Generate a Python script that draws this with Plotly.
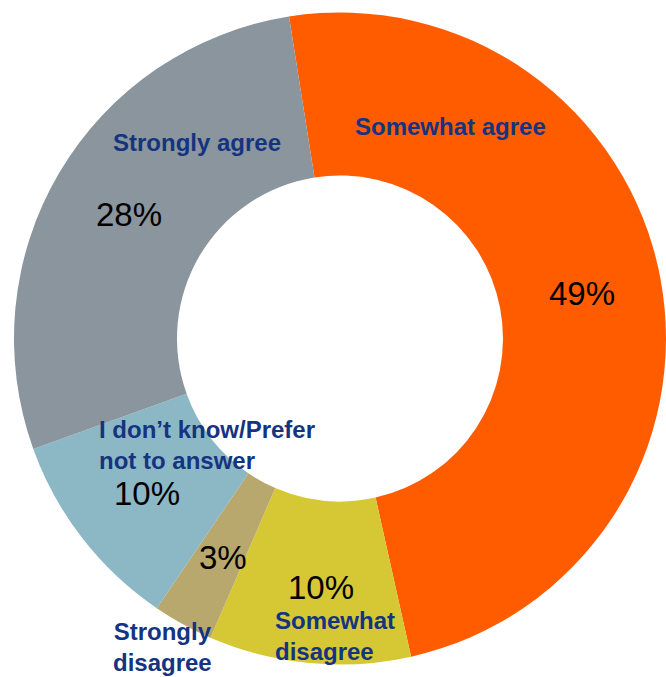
import plotly.graph_objects as go

# Survey responses, in clockwise order from the top of the ring
categories = [
    "Somewhat agree",
    "Somewhat disagree",
    "Strongly disagree",
    "I don't know/Prefer not to answer",
    "Strongly agree",
]
values = [49, 10, 3, 10, 28]
colors = ["#FF5C00", "#D6C734", "#B8A86E", "#8CB8C6", "#8A959E"]

# Label text shown on the chart (line breaks as drawn)
label_text = [
    "Somewhat agree",
    "Somewhat<br>disagree",
    "Strongly<br>disagree",
    "I don\u2019t know/Prefer<br>not to answer",
    "Strongly agree",
]

W, H = 666, 677

fig = go.Figure(
    go.Pie(
        labels=categories,
        values=values,
        marker=dict(colors=colors, line=dict(width=0)),
        hole=0.5,
        sort=False,
        direction="clockwise",
        rotation=-9,
        textinfo="none",
        hoverinfo="label+percent",
        domain=dict(x=[0.021, 1.0], y=[0.0, 1.0]),
        showlegend=False,
    )
)

# Pixel placement of category labels and percentages
# (x, y, xanchor) for each category
label_pos = [
    (450, 126, "center"),
    (273, 636, "left"),
    (162, 647, "center"),
    (97, 445, "left"),
    (197, 142, "center"),
]
pct_pos = [
    (582, 294),
    (321, 587),
    (223, 557),
    (147, 493),
    (129, 214),
]

label_font = dict(family="Liberation Sans, Arial, sans-serif", size=24, color="#15347F")
pct_font = dict(family="Liberation Sans, Arial, sans-serif", size=33, color="#000000")

annotations = []
for txt, (px, py, xa) in zip(label_text, label_pos):
    annotations.append(
        dict(
            x=px / W, y=1 - py / H, xref="paper", yref="paper",
            text=f"<b>{txt}</b>", showarrow=False,
            xanchor=xa, yanchor="middle", align=xa,
            font=label_font,
        )
    )
for v, (px, py) in zip(values, pct_pos):
    annotations.append(
        dict(
            x=px / W, y=1 - py / H, xref="paper", yref="paper",
            text=f"{v}%", showarrow=False,
            xanchor="center", yanchor="middle",
            font=pct_font,
        )
    )

fig.update_layout(
    width=W,
    height=H,
    margin=dict(l=0, r=0, t=0, b=0),
    paper_bgcolor="white",
    plot_bgcolor="white",
    annotations=annotations,
)

fig.write_html("out.html")
